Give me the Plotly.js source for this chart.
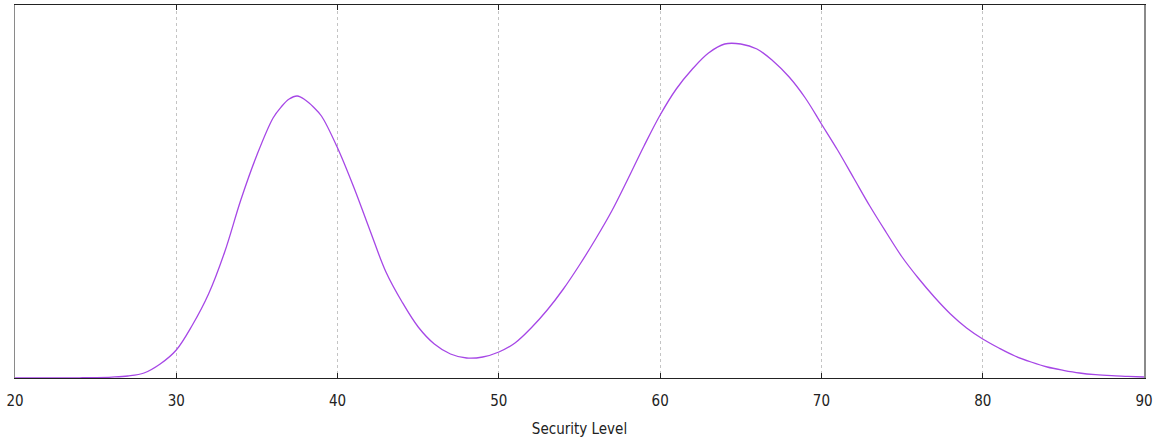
<!DOCTYPE html>
<html>
<head>
<meta charset="utf-8">
<script src="https://cdn.plot.ly/plotly-3.0.1.min.js"></script>
<style>html,body{margin:0;padding:0;background:#fff;}#chart{width:1158px;height:440px;}</style>
</head>
<body>
<div id="chart"></div>
<script>
// Security level (x) and density (y, units of 1e-4)
const securityLevel = [20,21,22,23,24,25,26,27,28,29,30,31,32,33,34,35,36,36.5,37,37.5,38,38.5,39,40,41,42,43,44,45,46,47,48,49,50,51,52,53,54,55,56,57,58,59,60,61,62,63,64,65,66,67,68,69,70,71,72,73,74,75,76,77,78,79,80,81,82,83,84,85,86,87,88,89,90];
const densityE4 = [0,0.02,0.05,0.1,0.2,0.4,0.9,2,5,14,28,53,84,126,178,223,260,271,279,282,278,271,262,230,191,148,106,76,51,34,24,20,21,26,35,50,68,89,113,139,167,199,232,263,289,309,325,334,334,329,317,301,280,254,228,200,172,146,121,100,81,64,50,39,30,22,16,11,7.7,5,3.3,2.3,1.7,1];
const xTicks = [20,30,40,50,60,70,80,90];
const xTitle = 'Security Level';

const density = densityE4.map(v => v / 10000);
const font = {family: '"DejaVu Sans Condensed", "DejaVu Sans", sans-serif', size: 15, color: '#222'};

Plotly.newPlot('chart', [{
  x: securityLevel, y: density, type: 'scatter', mode: 'lines',
  line: {color: '#a647e6', width: 1.3, shape: 'spline', smoothing: 1},
  hoverinfo: 'skip'
}], {
  width: 1158, height: 440,
  margin: {l: 15, r: 14, t: 5, b: 62},
  paper_bgcolor: '#fff', plot_bgcolor: '#fff',
  showlegend: false,
  font: font,
  xaxis: {
    range: [20, 90], tickvals: xTicks, ticktext: xTicks.map(String),
    ticks: 'inside', ticklen: 5, tickcolor: '#222', tickwidth: 1,
    showline: true, linecolor: '#222', linewidth: 1, mirror: 'ticks',
    showgrid: true, gridcolor: '#c4c4c4', gridwidth: 1, griddash: '3px,3px',
    zeroline: false, ticklabelstandoff: 9,
    tickfont: font,
    title: {text: xTitle, font: font, standoff: 14}
  },
  yaxis: {
    range: [0, 0.0373], showticklabels: false, ticks: '',
    showline: true, linecolor: '#8a8a8a', linewidth: 1.5, mirror: true,
    showgrid: false, zeroline: false
  }
}, {staticPlot: true, displayModeBar: false});
</script>
</body>
</html>
